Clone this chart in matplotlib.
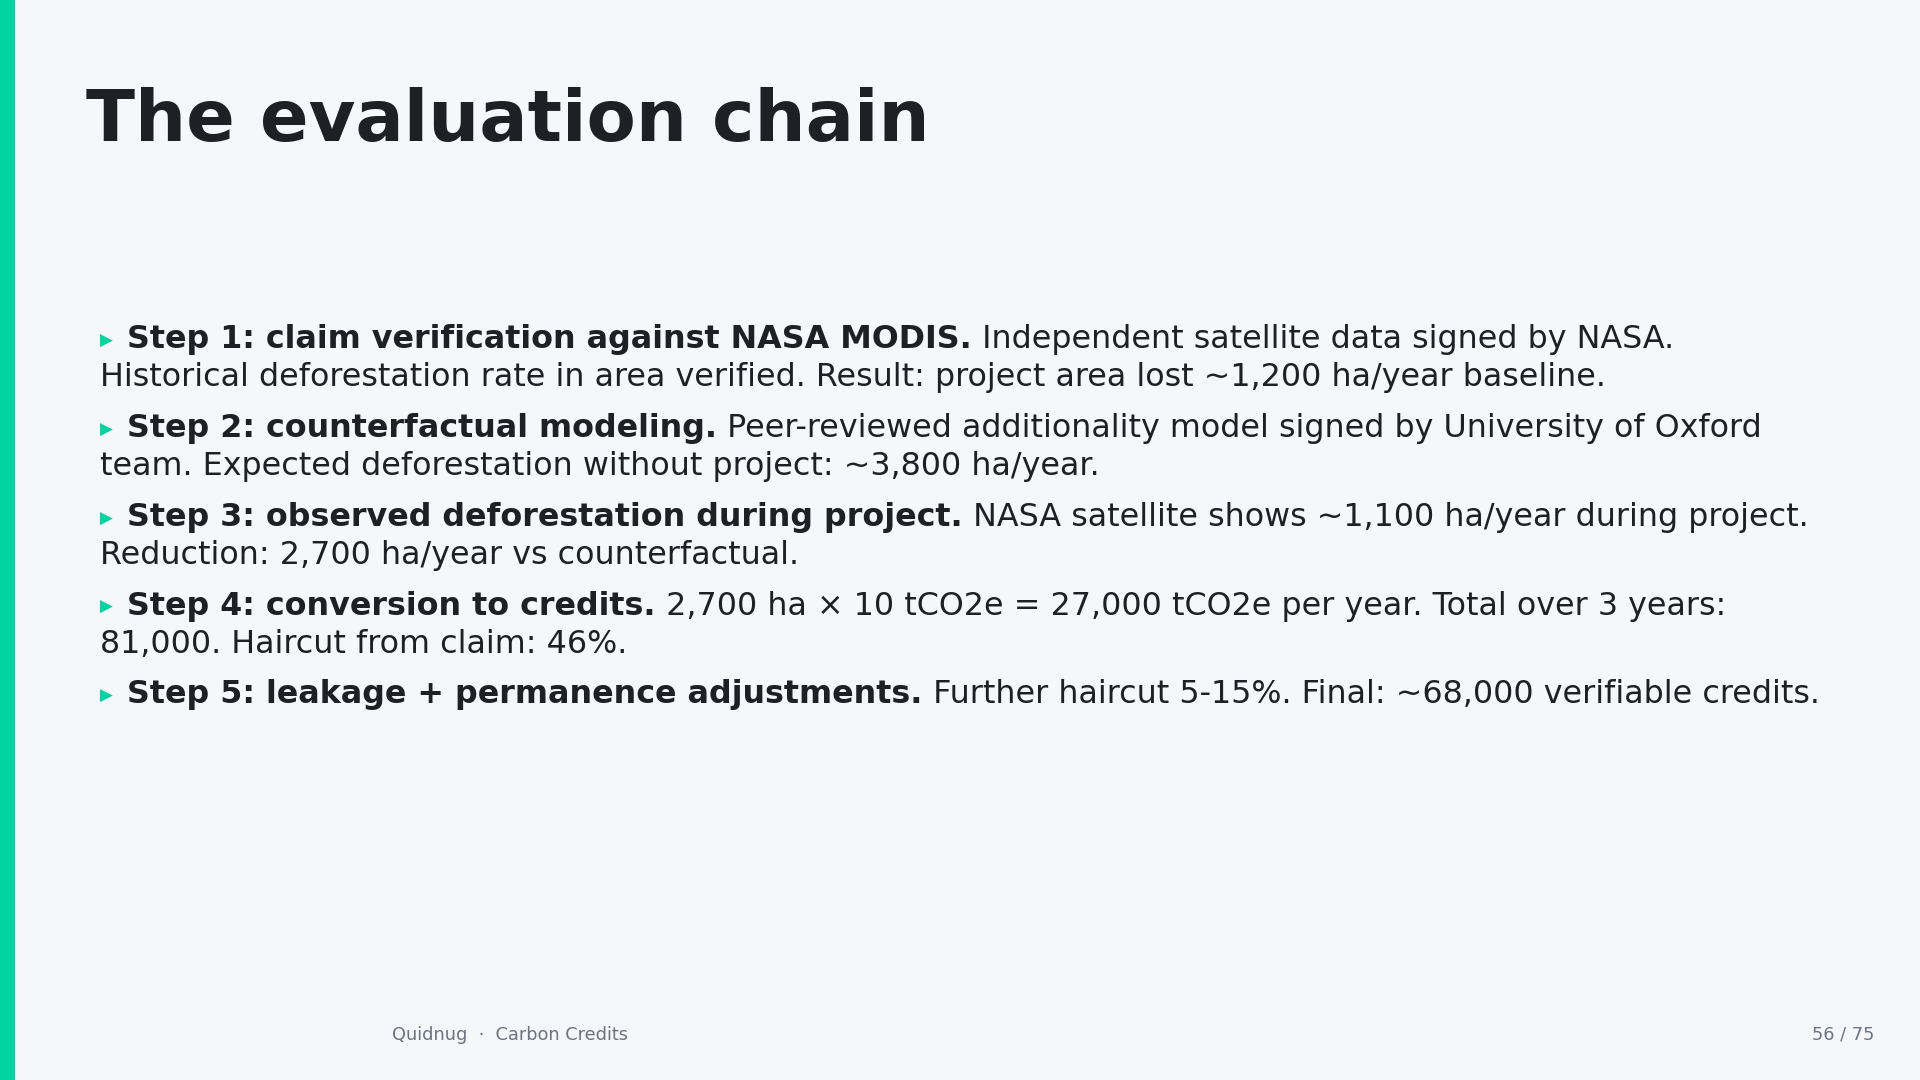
import matplotlib.pyplot as plt

W, H = 1568, 882  # layout reference grid

title = "The evaluation chain"
step_heads = [
    "Step 1: claim verification against NASA MODIS.",
    "Step 2: counterfactual modeling.",
    "Step 3: observed deforestation during project.",
    "Step 4: conversion to credits.",
    "Step 5: leakage + permanence adjustments.",
]
step_first = [
    " Independent satellite data signed by NASA.",
    " Peer-reviewed additionality model signed by University of Oxford",
    " NASA satellite shows ~1,100 ha/year during project.",
    " 2,700 ha \u00d7 10 tCO2e = 27,000 tCO2e per year. Total over 3 years:",
    " Further haircut 5-15%. Final: ~68,000 verifiable credits.",
]
step_second = [
    "Historical deforestation rate in area verified. Result: project area lost ~1,200 ha/year baseline.",
    "team. Expected deforestation without project: ~3,800 ha/year.",
    "Reduction: 2,700 ha/year vs counterfactual.",
    "81,000. Haircut from claim: 46%.",
    "",
]
footer_left = "Quidnug  \u00b7  Carbon Credits"
footer_right = "56 / 75"

BG = "#F5F7FA"
ACCENT = "#00D4A0"
INK = "#1D2126"
GREY = "#6B7480"

fig = plt.figure(figsize=(19.2, 10.8), dpi=100, facecolor=BG)
ax = fig.add_axes([0, 0, 1, 1])
ax.set_xlim(0, W)
ax.set_ylim(H, 0)
ax.axis("off")
ax.set_facecolor(BG)

ax.add_patch(plt.Rectangle((0, 0), 12, H, color=ACCENT, lw=0))

ax.text(70, 99, title, fontsize=51.7, fontweight="bold", color=INK, va="center")

y0, block = 277.5, 72.5
fs = 22.9
for i, head in enumerate(step_heads):
    y = y0 + i * block
    ax.text(82, y + 1, "\u25b6", fontsize=12, color=ACCENT, va="center")
    t = ax.text(104, y, head, fontsize=fs, fontweight="bold", color=INK, va="center")
    ax.annotate(step_first[i], xy=(1, 0.5), xycoords=t, fontsize=fs, color=INK,
                va="center", ha="left")
    if step_second[i]:
        ax.text(82, y + 31, step_second[i], fontsize=fs, color=INK, va="center")

ax.text(320, 845, footer_left, fontsize=12.8, color=GREY, va="center")
ax.text(1531, 845, footer_right, fontsize=12.8, color=GREY, va="center", ha="right")

fig.savefig("out.png", dpi=100, facecolor=BG)
